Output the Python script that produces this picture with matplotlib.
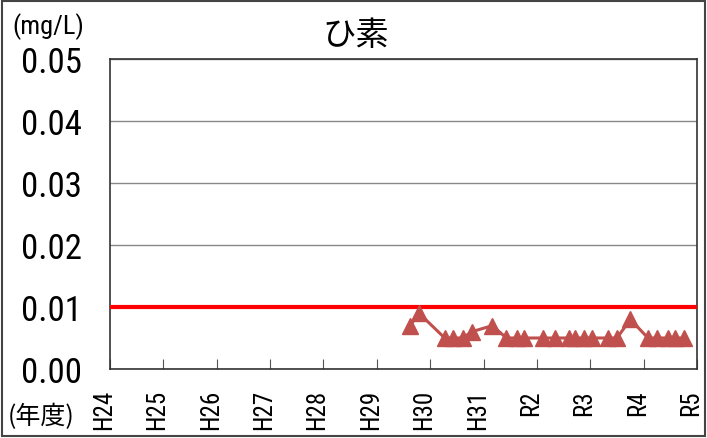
"""ひ素 concentration chart."""
import numpy as np
import pandas as pd
import matplotlib
matplotlib.use("Agg")
import matplotlib.pyplot as plt
from matplotlib.patches import Rectangle

# -------------------------------------------------------
# Data.
# -------------------------------------------------------
year_labels = ["H24", "H25", "H26", "H27", "H28", "H29",
               "H30", "H31", "R2", "R3", "R4", "R5"]
sample_dates = [
    "2017-11-15", "2018-01-15", "2018-07-10", "2018-09-05",
    "2018-11-10", "2019-01-10", "2019-06-01", "2019-09-05",
    "2019-11-15", "2020-01-05", "2020-05-15", "2020-08-01",
    "2020-11-05", "2020-12-15", "2021-02-15", "2021-04-15",
    "2021-08-01", "2021-10-01", "2022-01-01", "2022-05-01",
    "2022-07-01", "2022-09-15", "2022-11-01", "2023-01-01",
]
arsenic = [
    0.007, 0.009, 0.005, 0.005,
    0.005, 0.006, 0.007, 0.005,
    0.005, 0.005, 0.005, 0.005,
    0.005, 0.005, 0.005, 0.005,
    0.005, 0.005, 0.008, 0.005,
    0.005, 0.005, 0.005, 0.005,
]
standard = 0.01
y_ticks = [0.00, 0.01, 0.02, 0.03, 0.04, 0.05]

# position in fiscal years since April 2012 (H24):
dates = pd.to_datetime(sample_dates)
start = pd.Timestamp("2012-04-01")
xpos = (dates - start).days / 365.25

# -------------------------------------------------------
# Plot.
# -------------------------------------------------------
jp = ["Noto Sans CJK JP", "DejaVu Sans"]
num = ["Roboto Condensed", "DejaVu Sans"]

fig = plt.figure(figsize=(7.07, 4.39), dpi=100)
ax = fig.add_axes([110/707, 69/439, 587/707, 310/439])

ax.axhline(standard, color="#ff0000", linewidth=3, zorder=3)
ax.plot(xpos, arsenic, color="#c0504d", linewidth=2.2,
        marker="^", markersize=11, zorder=4)

ax.set_ylim(0, 0.05)
ax.set_yticks(y_ticks)
ax.set_yticklabels(["%.2f" % v for v in y_ticks], family=num, fontsize=25)

# tick marks on the year boundaries, labels a little to the left:
ticks = np.arange(len(year_labels))
ax.set_xticks(ticks)
ax.set_xticklabels([])
ax.set_xlim(0, len(year_labels) - 1)
for t, lab in zip(ticks, year_labels):
    ax.text(t - 0.11, -0.065, lab, transform=ax.get_xaxis_transform(),
            rotation=90, ha="center", va="top", family=num, fontsize=18)
ax.tick_params(axis="x", direction="in", length=7, color="#555555")
ax.tick_params(axis="y", length=0, pad=20)
ax.grid(axis="y", color="#888888", linewidth=1)
ax.set_axisbelow(True)
for s in ax.spines.values():
    s.set_color("#333333")
    s.set_linewidth(1.2)

fig.text(12/707, 1 - 27/439, "(mg/L)", family=num, fontsize=19,
         va="center", ha="left")
fig.text(356/707, 1 - 36/439, "ひ素", family=jp, fontsize=24,
         va="center", ha="center")
fig.text(8/707, 1 - 417/439, "(年度)", family=jp, fontsize=18,
         va="center", ha="left")

# outer frame:
fig.patches.append(Rectangle((2/707, 2/439), 703/707, 435/439,
                             transform=fig.transFigure, fill=False,
                             edgecolor="#444444", linewidth=1.5))

fig.savefig("out.png", dpi=100)
